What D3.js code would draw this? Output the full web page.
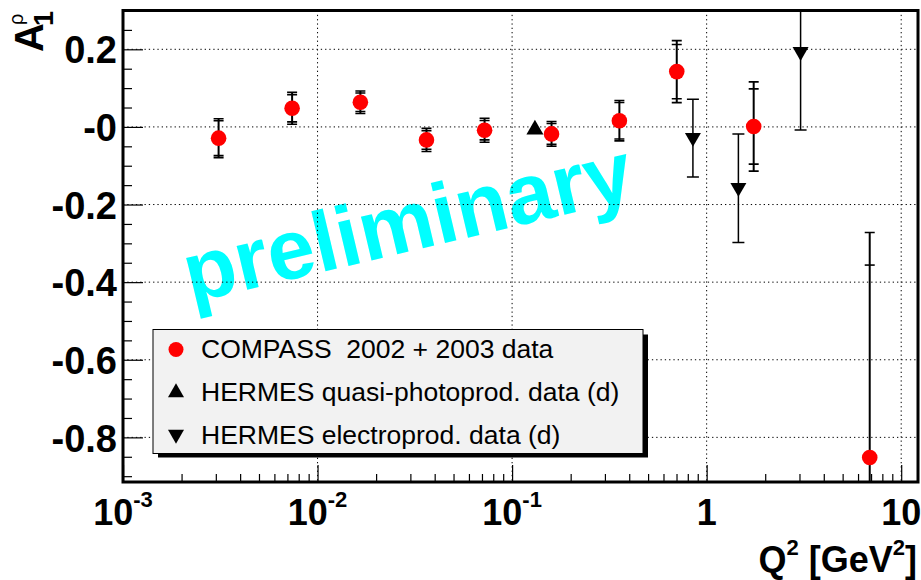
<!DOCTYPE html>
<html><head><meta charset="utf-8">
<script src="https://cdn.jsdelivr.net/npm/d3@7"></script>
<style>body{margin:0;background:#fff} svg{display:block} text{font-family:"Liberation Sans",Arial,Helvetica,sans-serif;white-space:pre}</style>
</head><body><svg id="c" width="921" height="580"></svg>
<script>
// ---- data ----
const compassQ2   = [0.0031, 0.0074, 0.0166, 0.0363, 0.0722, 0.1595, 0.356, 0.702, 1.745, 6.89];
const compassA    = [-0.029, 0.048, 0.0636, -0.0335, -0.0085, -0.018, 0.016, 0.1425, 0.001, -0.852];
const compassStat = [0.045, 0.035, 0.024, 0.024, 0.025, 0.027, 0.047, 0.070, 0.097, 0.496];
const compassTot  = [0.050, 0.041, 0.029, 0.030, 0.031, 0.032, 0.052, 0.080, 0.115, 0.580];
const hermesPhotoQ2  = [0.131];
const hermesPhotoA   = [-0.005];
const hermesPhotoErr = [0.004];
const hermesElectroQ2  = [0.85, 1.456, 3.04];
const hermesElectroA   = [-0.029, -0.158, 0.192];
const hermesElectroErr = [0.100, 0.140, 0.200];
const yTickValues = [0.2, 0, -0.2, -0.4, -0.6, -0.8];
const yTickLabels = ["0.2", "-0", "-0.2", "-0.4", "-0.6", "-0.8"];
const xTickValues = [0.001, 0.01, 0.1, 1, 10];
const xTickBase   = ["10", "10", "10", "1", "10"];
const xTickExp    = ["-3", "-2", "-1", "", ""];
const legendLabels = ["COMPASS  2002 + 2003 data", "HERMES quasi-photoprod. data (d)", "HERMES electroprod. data (d)"];
const legendMarkers = ["circle", "up", "down"];

// ---- layout ----
const L = 123, R = 918, T = 10.5, B = 482;
const svg = d3.select("#c");
const x = d3.scaleLog().domain([0.001, 12.2]).range([L, R]);
const y = d3.scaleLinear().domain([-0.915, 0.3]).range([B, T]);

svg.append("defs").append("clipPath").attr("id", "clip")
  .append("rect").attr("x", L).attr("y", T).attr("width", R - L).attr("height", B - T);

// preliminary watermark
svg.append("text").attr("transform", "translate(191,303) rotate(-13.3)")
  .attr("fill", "#00ffff").attr("font-size", 85).attr("font-weight", "bold")
  .text("preliminary");

// grid
const grid = svg.append("g").attr("stroke", "#000").attr("stroke-width", 1).attr("stroke-dasharray", "1.3,3");
grid.selectAll("line.gx").data(xTickValues.slice(1)).join("line")
  .attr("x1", d => x(d)).attr("x2", d => x(d)).attr("y1", T).attr("y2", B);
grid.selectAll("line.gy").data(yTickValues).join("line").attr("class", "gy")
  .attr("x1", L).attr("x2", R).attr("y1", d => y(d)).attr("y2", d => y(d));

// axes
const yMinor = d3.range(-18, 6).map(i => i * 0.05).filter(v => !yTickValues.some(t => Math.abs(t - v) < 1e-6));
const yAxMinor = d3.axisLeft(y).tickValues(yMinor).tickSize(-9).tickFormat("");
const yAx = d3.axisLeft(y).tickValues(yTickValues).tickSize(-20).tickPadding(6)
  .tickFormat((d, i) => yTickLabels[i]);
const gy1 = svg.append("g").attr("transform", `translate(${L},0)`).call(yAxMinor);
const gy2 = svg.append("g").attr("transform", `translate(${L},0)`).call(yAx);
[gy1, gy2].forEach(g => { g.select(".domain").remove(); g.selectAll("line").attr("stroke", "#000").attr("stroke-width", 1.2); });
gy2.selectAll("text").attr("font-size", 38).attr("font-weight", "bold").attr("fill", "#000").attr("dy", "0.36em");

const xMinor = [];
[0.001, 0.01, 0.1, 1].forEach(dec => { for (let k = 2; k <= 9; k++) xMinor.push(dec * k); });
const xAxMinor = d3.axisBottom(x).tickValues(xMinor).tickSize(-8).tickFormat("");
const xAx = d3.axisBottom(x).tickValues(xTickValues).tickSize(-17).tickFormat("");
const gx1 = svg.append("g").attr("transform", `translate(0,${B})`).call(xAxMinor);
const gx2 = svg.append("g").attr("transform", `translate(0,${B})`).call(xAx);
[gx1, gx2].forEach(g => { g.select(".domain").remove(); g.selectAll("line").attr("stroke", "#000").attr("stroke-width", 1.2); });

const xl = svg.append("g").selectAll("text").data(xTickValues).join("text")
  .attr("x", d => x(d)).attr("y", 525).attr("text-anchor", "middle")
  .attr("font-weight", "bold").attr("font-size", 36);
xl.each(function (d, i) {
  const t = d3.select(this);
  t.append("tspan").text(xTickBase[i]);
  if (xTickExp[i]) t.append("tspan").attr("font-size", 22).attr("dy", -18).text(xTickExp[i]);
});

// frame
svg.append("rect").attr("x", L).attr("y", T).attr("width", R - L).attr("height", B - T)
  .attr("fill", "none").attr("stroke", "#000").attr("stroke-width", 3);

// axis titles
const xt = svg.append("text").attr("x", 917).attr("y", 572).attr("text-anchor", "end")
  .attr("font-weight", "bold").attr("font-size", 36);
xt.append("tspan").text("Q");
xt.append("tspan").attr("font-size", 22).attr("dy", -17).text("2");
xt.append("tspan").attr("dy", 17).text(" [GeV");
xt.append("tspan").attr("font-size", 22).attr("dy", -17).text("2");
xt.append("tspan").attr("dy", 17).text("]");

svg.append("text").attr("transform", "translate(43,52) rotate(-90)")
  .attr("font-weight", "bold").attr("font-size", 40).text("A");
svg.append("text").attr("transform", "translate(53,26) rotate(-90)")
  .attr("font-weight", "bold").attr("font-size", 27).text("1");
svg.append("text").attr("transform", "translate(23,25) rotate(-90)")
  .attr("font-size", 20).text("ρ");

// markers
const tri = (s, up) => {
  const h = s * 0.87;
  return up ? `M0,${-h * 0.62}L${s / 2},${h * 0.38}L${-s / 2},${h * 0.38}Z`
            : `M0,${h * 0.62}L${s / 2},${-h * 0.38}L${-s / 2},${-h * 0.38}Z`;
};
const plot = svg.append("g").attr("clip-path", "url(#clip)");

// COMPASS error bars
const cData = compassQ2.map((q, i) => ({ q, a: compassA[i], s: compassStat[i], t: compassTot[i] }));
const cg = plot.append("g").attr("stroke", "#000").attr("stroke-width", 2);
cData.forEach(d => {
  const px = x(d.q);
  cg.append("line").attr("x1", px).attr("x2", px).attr("y1", y(d.a - d.t)).attr("y2", y(d.a + d.t));
  [d.a + d.t, d.a - d.t, d.a + d.s, d.a - d.s].forEach(v =>
    cg.append("line").attr("x1", px - 5).attr("x2", px + 5).attr("y1", y(v)).attr("y2", y(v)).attr("stroke-width", 1.6));
});
// HERMES electro error bars
const eData = hermesElectroQ2.map((q, i) => ({ q, a: hermesElectroA[i], e: hermesElectroErr[i] }));
const eg = plot.append("g").attr("stroke", "#000").attr("stroke-width", 1.5);
eData.forEach(d => {
  const px = x(d.q);
  eg.append("line").attr("x1", px).attr("x2", px).attr("y1", y(d.a - d.e)).attr("y2", y(d.a + d.e));
  [d.a + d.e, d.a - d.e].forEach(v =>
    eg.append("line").attr("x1", px - 6).attr("x2", px + 6).attr("y1", y(v)).attr("y2", y(v)));
});
plot.append("g").selectAll("circle").data(cData).join("circle")
  .attr("cx", d => x(d.q)).attr("cy", d => y(d.a)).attr("r", 7.8).attr("fill", "#ff0000");
plot.append("g").selectAll("path").data(eData).join("path")
  .attr("transform", d => `translate(${x(d.q)},${y(d.a)})`).attr("d", tri(16, false)).attr("fill", "#000");
plot.append("g").selectAll("path").data(hermesPhotoQ2).join("path")
  .attr("transform", (d, i) => `translate(${x(d)},${y(hermesPhotoA[i])})`).attr("d", tri(17, true)).attr("fill", "#000");

// legend
const lg = svg.append("g");
lg.append("rect").attr("x", 158).attr("y", 334.5).attr("width", 490).attr("height", 123).attr("fill", "#000");
lg.append("rect").attr("x", 153).attr("y", 329.5).attr("width", 490).attr("height", 124)
  .attr("fill", "#f2f2f2").attr("stroke", "#000").attr("stroke-width", 1);
const rows = [349.5, 392, 435];
legendLabels.forEach((lab, i) => {
  const cy = rows[i];
  if (legendMarkers[i] === "circle") lg.append("circle").attr("cx", 176).attr("cy", cy).attr("r", 7.5).attr("fill", "#ff0000");
  else lg.append("path").attr("transform", `translate(176,${cy})`).attr("d", tri(16, legendMarkers[i] === "up")).attr("fill", "#000");
  lg.append("text").attr("x", 201).attr("y", cy + 8.5).attr("font-size", 26.5).attr("fill", "#000")
    .attr("xml:space", "preserve").text(lab);
});
</script></body></html>
